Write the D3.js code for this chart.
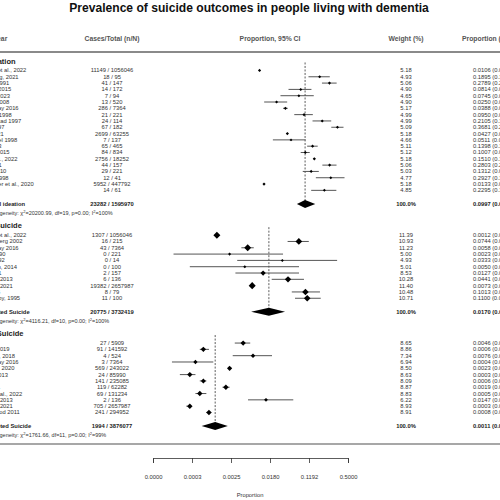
<!DOCTYPE html>
<html><head><meta charset="utf-8">
<script src="https://cdn.jsdelivr.net/npm/d3@7"></script>
<style>body{margin:0;background:#fff;overflow:hidden}svg{display:block}</style>
</head><body><svg id="c" width="500" height="500"></svg>
<script>
// ---------- DATA ----------
const chartTitle = "Prevalence of suicide outcomes in people living with dementia";
const headers = ["First Author, Year", "Cases/Total (n/N)", "Proportion, 95% CI", "Weight (%)", "Proportion (95% CI)"];
const groupTitles = ["Suicidal ideation", "Attempted Suicide", "Completed Suicide"];

const ideationStudies = ["Wiese-Hansen et al., 2022","Olsson and Kang, 2021","Draper & Koh, 1991","Morgan and Li, 2015","Tan and Suen, 2023","Haw and Hoe, 2008","Sheehan and Kay 2016","Lyness & Conn 1998","Tveit and Bergstad 1997","Draper et al, 1997","Annor et al., 2021","Margo and Finkel 1998","Zhou et al., 2023","Seyfried et al., 2015","Tsoh-Wong et al., 2022","Ryan et al., 2021","Ballard et al., 2010","Rao & Dening 1998","Schmutte-Roeder et al., 2020","Ferris, 2016"];
const ideationCases = [11149,18,41,14,7,13,286,21,24,67,2699,7,65,84,2756,44,29,12,5952,14];
const ideationTotals = [1056046,95,147,172,94,520,7364,221,114,182,63255,137,465,834,18252,157,221,41,447792,61];
const ideationProp = [0.0106,0.1895,0.2789,0.0814,0.0745,0.0250,0.0388,0.0950,0.2105,0.3681,0.0427,0.0511,0.1398,0.1007,0.1510,0.2803,0.1312,0.2927,0.0133,0.2295];
const ideationLow = [0.0104,0.1164,0.2083,0.0452,0.0304,0.0134,0.0345,0.0598,0.1395,0.2980,0.0411,0.0208,0.1096,0.0812,0.1458,0.2118,0.0895,0.1613,0.0130,0.1315];
const ideationHigh = [0.0108,0.2820,0.3584,0.1330,0.1473,0.0423,0.0435,0.1415,0.2971,0.4426,0.0443,0.1024,0.1746,0.1232,0.1563,0.3570,0.1828,0.4556,0.0136,0.3549];
const ideationWeight = [5.18,4.93,5.06,4.90,4.65,4.90,5.17,4.99,4.99,5.09,5.18,4.66,5.11,5.12,5.18,5.06,5.03,4.77,5.18,4.85];

const attemptedStudies = ["Wiese-Hansen et al., 2022","Blomberg and Berg 2002","Sheehan and Kay 2016","Rohde et al., 1990","Margo et al., 1992","Mendez and Lim, 2014","Kaya et al., 2021","Kohyama et al., 2013","Alothman et al., 2021","Choi et al., 2015","Burns and Jacoby, 1995"];
const attemptedCases = [1307,16,43,0,0,0,2,6,19382,8,11];
const attemptedTotals = [1056046,215,7364,221,14,100,157,136,2657987,79,100];
const attemptedProp = [0.0012,0.0744,0.0058,0.0023,0.0333,0.0050,0.0127,0.0441,0.0073,0.1013,0.1100];
const attemptedLow = [0.0012,0.0432,0.0042,0.00013,0.0034,0.0003,0.0031,0.0196,0.0072,0.0530,0.0620];
const attemptedHigh = [0.0013,0.1181,0.0079,0.0345,0.3640,0.0750,0.0750,0.0947,0.0074,0.1920,0.1980];
const attemptedWeight = [11.39,10.93,11.23,5.00,4.93,5.01,8.53,10.28,11.40,10.48,10.71];

const completedStudies = ["Tam et al., 2019","Seyfried et al., 2019","Hwang and Kim, 2018","Sheehan and Kay 2016","Erlangsen et al., 2020","Holmes et al., 2013","Ferris, 2017","Park et al., 2021","Wiese-Moller et al., 2022","Kohyama et al., 2013","Alothman et al., 2021","Haw and Harwood 2011"];
const completedCases = [27,91,4,3,569,24,141,119,69,2,705,241];
const completedTotals = [5909,141592,524,7364,243022,85990,235085,62282,131234,136,2657987,294952];
const completedProp = [0.0046,0.0006,0.0076,0.0004,0.0023,0.0003,0.0006,0.0019,0.0005,0.0147,0.0003,0.0008];
const completedLow = [0.0030,0.0005,0.0027,0.00012,0.0022,0.00018,0.0005,0.0016,0.0004,0.0059,0.00025,0.0007];
const completedHigh = [0.0066,0.0008,0.0199,0.0010,0.0025,0.0004,0.0007,0.0023,0.0007,0.0570,0.00028,0.0009];
const completedWeight = [8.65,8.86,7.34,6.94,8.50,8.63,8.09,8.87,8.83,6.22,8.93,8.91];

const pooledLabels = ["Pooled Suicidal ideation","Pooled Attempted Suicide","Pooled Completed Suicide"];
const pooledCases = [23282,20775,1994];
const pooledTotals = [1595970,3732419,3876077];
const pooledProp = [0.0997,0.0170,0.0011];
const pooledLow = [0.0677,0.0069,0.00055];
const pooledHigh = [0.1573,0.0381,0.0021];
const hetChi = ["20200.99","4116.21","1761.66"];
const hetDf = [19,10,11];
const hetP = ["0.00","0.00","0.00"];
const hetI2 = ["100%","100%","99%"];

const tickLogits = [-10,-8,-6,-4,-2,0];
const tickLabels = ["0.0000","0.0003","0.0025","0.0180","0.1192","0.5000"];
const xAxisLabel = "Proportion";

// ---------- BUILD ----------
const groups = [
  {studies: ideationStudies, cases: ideationCases, totals: ideationTotals, p: ideationProp, lo: ideationLow, hi: ideationHigh, w: ideationWeight},
  {studies: attemptedStudies, cases: attemptedCases, totals: attemptedTotals, p: attemptedProp, lo: attemptedLow, hi: attemptedHigh, w: attemptedWeight},
  {studies: completedStudies, cases: completedCases, totals: completedTotals, p: completedProp, lo: completedLow, hi: completedHigh, w: completedWeight}
];

const svg = d3.select("#c");
const FONT = "'Liberation Sans', Arial, Helvetica, sans-serif";
const logit = p => Math.log(p / (1 - p));
const x = d3.scaleLinear().domain([-10, 0]).range([153, 348]);
const y = d3.scaleLinear().domain([0, 1]).range([61, 61 + 6.31]);
const mSize = d3.scaleLinear().domain([0, 12]).range([0, 7.4]);

const colName = -42, colCases = 112, colWeight = 406, colProp = 473;
const f4 = d => d3.format(".4f")(d);

// title
svg.append("text").attr("x", 249).attr("y", 11.5).attr("text-anchor", "middle")
  .attr("font-family", FONT).attr("font-size", 12.1).attr("font-weight", "bold").attr("fill", "#111")
  .text(chartTitle);

// headers
const hdrX = [-49, colCases, 270, colWeight, 462];
const hdrAnchor = ["start", "middle", "middle", "middle", "start"];
headers.forEach((h, i) => {
  svg.append("text").attr("x", hdrX[i]).attr("y", 38).attr("dominant-baseline", "central")
    .attr("text-anchor", hdrAnchor[i]).attr("font-family", FONT).attr("font-size", 6.8)
    .attr("font-weight", "bold").attr("fill", "#555").text(h);
});
svg.append("line").attr("x1", 0).attr("x2", 500).attr("y1", 52).attr("y2", 52)
  .attr("stroke", "#8a8a8a").attr("stroke-width", 2);

function txt(xx, yy, s, opts = {}) {
  return svg.append("text").attr("x", xx).attr("y", yy).attr("dominant-baseline", "central")
    .attr("text-anchor", opts.anchor || "start").attr("font-family", FONT)
    .attr("font-size", opts.size || 5.8).attr("font-weight", opts.bold ? "bold" : "normal")
    .attr("fill", opts.fill || "#333").text(s);
}

let u = 0;
groups.forEach((g, gi) => {
  // heading
  txt(-44, y(u), groupTitles[gi], {bold: true, size: 7.5, fill: "#222"});
  const firstU = u + 1.5;
  const n = g.studies.length;
  const rowsU = d3.range(n).map(i => firstU + i);
  const sumU = firstU + (n - 1) + 2.15;
  const hetU = sumU + 1.4;

  // dashed pooled line
  svg.append("line").attr("x1", x(logit(pooledProp[gi]))).attr("x2", x(logit(pooledProp[gi])))
    .attr("y1", y(firstU) - 8).attr("y2", y(sumU) - 3)
    .attr("stroke", "#333").attr("stroke-width", 0.8).attr("stroke-dasharray", "2,1.5");

  rowsU.forEach((ru, i) => {
    const yy = y(ru);
    txt(colName, yy, g.studies[i]);
    txt(colCases, yy, `${g.cases[i]} / ${g.totals[i]}`, {anchor: "middle"});
    txt(colWeight, yy, d3.format(".2f")(g.w[i]), {anchor: "middle"});
    txt(colProp, yy, `${f4(g.p[i])} (${f4(g.lo[i])}, ${f4(g.hi[i])})`);
    // CI whisker
    svg.append("line").attr("x1", x(logit(g.lo[i]))).attr("x2", x(logit(g.hi[i])))
      .attr("y1", yy).attr("y2", yy).attr("stroke", "#555").attr("stroke-width", 1);
    // marker
    const cx = x(logit(g.p[i])), h = mSize(g.w[i]) / 2;
    svg.append("path").attr("d", `M${cx - h},${yy} L${cx},${yy - h} L${cx + h},${yy} L${cx},${yy + h} Z`)
      .attr("fill", "#000");
  });

  // summary row
  const sy = y(sumU);
  txt(colName, sy, pooledLabels[gi], {bold: true, fill: "#222"});
  txt(colCases, sy, `${pooledCases[gi]} / ${pooledTotals[gi]}`, {anchor: "middle", bold: true, fill: "#222"});
  txt(colWeight, sy, "100.0%", {anchor: "middle", bold: true, fill: "#222"});
  txt(colProp, sy, `${f4(pooledProp[gi])} (${f4(pooledLow[gi])}, ${f4(pooledHigh[gi])})`, {bold: true, fill: "#222"});
  const xl = x(logit(pooledLow[gi])), xc = x(logit(pooledProp[gi])), xh = x(logit(pooledHigh[gi]));
  svg.append("path").attr("d", `M${xl},${sy} L${xc},${sy - 4} L${xh},${sy} L${xc},${sy + 4} Z`).attr("fill", "#000");

  // heterogeneity
  const ht = svg.append("text").attr("x", -17).attr("y", y(hetU)).attr("dominant-baseline", "central")
    .attr("font-family", FONT).attr("font-size", 5.5).attr("fill", "#333");
  ht.append("tspan").text("Heterogeneity: \u03C7");
  ht.append("tspan").attr("dy", -2).attr("font-size", 4).text("2");
  ht.append("tspan").attr("dy", 2).text(`=${hetChi[gi]}, df=${hetDf[gi]}, p=${hetP[gi]}; I`);
  ht.append("tspan").attr("dy", -2).attr("font-size", 4).text("2");
  ht.append("tspan").attr("dy", 2).text(`=${hetI2[gi]}`);

  u = hetU + 2.05;
});

// bottom rule
svg.append("line").attr("x1", 0).attr("x2", 500).attr("y1", 444).attr("y2", 444)
  .attr("stroke", "#8a8a8a").attr("stroke-width", 1.5);

// axis
const axis = d3.axisBottom(x).tickValues(tickLogits).tickFormat((d, i) => tickLabels[i])
  .tickSize(5).tickPadding(12);
const ag = svg.append("g").attr("transform", "translate(0,458)").call(axis);
ag.selectAll("path,line").attr("stroke", "#333").attr("stroke-width", 0.8);
ag.selectAll("text").attr("font-family", FONT).attr("font-size", 5.8).attr("fill", "#333");

svg.append("text").attr("x", 250).attr("y", 495).attr("dominant-baseline", "central")
  .attr("text-anchor", "middle").attr("font-family", FONT).attr("font-size", 5.8).attr("fill", "#333")
  .text(xAxisLabel);
</script></body></html>
